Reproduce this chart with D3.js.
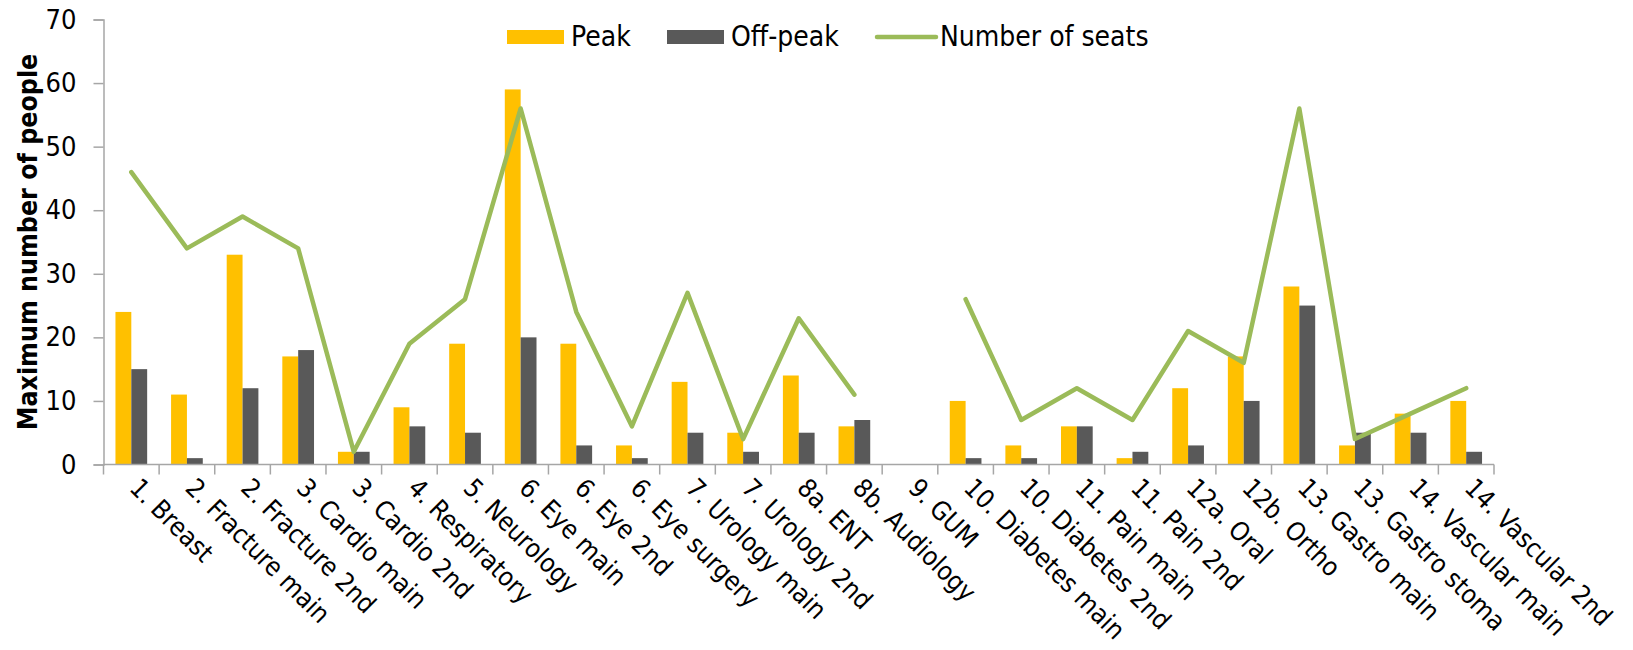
<!DOCTYPE html>
<html>
<head>
<meta charset="utf-8">
<script src="https://cdn.jsdelivr.net/npm/d3@7"></script>
<style>
  html, body { margin: 0; padding: 0; background: #fff; }
  svg { display: block; }
  text { font-family: "DejaVu Sans Condensed", "DejaVu Sans", sans-serif; font-stretch: condensed; fill: #000; }
</style>
</head>
<body>
<svg id="chart" width="1633" height="650"></svg>
<script>
const categories = ["1. Breast","2. Fracture main","2. Fracture 2nd","3. Cardio main","3. Cardio 2nd","4. Respiratory","5. Neurology","6. Eye main","6. Eye 2nd","6. Eye surgery","7. Urology main","7. Urology 2nd","8a. ENT","8b. Audiology","9. GUM","10. Diabetes main","10. Diabetes 2nd","11. Pain main","11. Pain 2nd","12a. Oral","12b. Ortho","13. Gastro main","13. Gastro stoma","14. Vascular main","14. Vascular 2nd"];
const peak    = [24,11,33,17,2,9,19,59,19,3,13,5,14,6,0,10,3,6,1,12,17,28,3,8,10];
const offPeak = [15,1,12,18,2,6,5,20,3,1,5,2,5,7,0,1,1,6,2,3,10,25,5,5,2];
const seats   = [46,34,39,34,2,19,26,56,24,6,27,4,23,11,null,26,7,12,7,21,16,56,4,8,12];
const yTicks  = [0,10,20,30,40,50,60,70];
const seriesNames = ["Peak","Off-peak","Number of seats"];
const colors = {"Peak":"#FFC000","Off-peak":"#595959","Number of seats":"#9BBB59"};

const svg = d3.select("#chart");
const plotLeft = 103.5, plotRight = 1494, plotTop = 19.5, plotBottom = 464.5;

const x = d3.scaleBand().domain(categories).range([plotLeft, plotRight]).padding(0);
const x1 = d3.scaleBand().domain(["Peak","Off-peak"]).range([x.bandwidth()*0.215, x.bandwidth()*0.785]).padding(0);
const y = d3.scaleLinear().domain([0,70]).range([plotBottom, plotTop]);

// bars
const g = svg.append("g");
categories.forEach((c,i) => {
  [["Peak",peak[i]],["Off-peak",offPeak[i]]].forEach(([s,v]) => {
    if (v > 0) {
      g.append("rect")
        .attr("x", x(c) + x1(s))
        .attr("y", y(v))
        .attr("width", x1.bandwidth())
        .attr("height", y(0) - y(v))
        .attr("fill", colors[s]);
    }
  });
});

// y axis
const yAxis = d3.axisLeft(y).tickValues(yTicks).tickSize(10).tickPadding(17);
const ya = svg.append("g").attr("transform", `translate(${plotLeft},0)`).call(yAxis);
ya.select(".domain").attr("stroke", "#A6A6A6").attr("stroke-width", 1.5);
ya.selectAll(".tick line").attr("stroke", "#A6A6A6").attr("stroke-width", 1.5);
ya.selectAll(".tick text").attr("font-size", 27).attr("font-family", null).attr("fill", "#000");

// x axis
const xa = svg.append("g").attr("transform", `translate(0,${plotBottom})`);
xa.append("line").attr("x1", plotLeft).attr("x2", plotRight).attr("y1", 0).attr("y2", 0)
  .attr("stroke", "#A6A6A6").attr("stroke-width", 1.5);
const bounds = categories.map(c => x(c)).concat([plotRight]);
xa.selectAll("line.tk").data(bounds).enter().append("line").attr("class","tk")
  .attr("x1", d => d).attr("x2", d => d).attr("y1", 0).attr("y2", 10)
  .attr("stroke", "#A6A6A6").attr("stroke-width", 1.5);
xa.selectAll("text.lbl").data(categories).enter().append("text").attr("class","lbl")
  .attr("font-size", 26)
  .attr("text-anchor", "start")
  .attr("transform", d => `translate(${x(d) + x.bandwidth()/2 - 3},${25}) rotate(45)`)
  .text(d => d);

// line
const line = d3.line()
  .defined(d => d.v !== null)
  .x(d => x(d.c) + x.bandwidth()/2)
  .y(d => y(d.v));
svg.append("path")
  .datum(categories.map((c,i) => ({c, v: seats[i]})))
  .attr("d", line)
  .attr("fill", "none")
  .attr("stroke", colors["Number of seats"])
  .attr("stroke-width", 4.5)
  .attr("stroke-linejoin", "round")
  .attr("stroke-linecap", "round");

// y title
svg.append("text")
  .attr("transform", `translate(37,${(plotTop+plotBottom)/2}) rotate(-90)`)
  .attr("text-anchor", "middle")
  .attr("font-size", 26.5)
  .attr("font-weight", "bold")
  .text("Maximum number of people");

// legend
const legendX = [507, 667, 877];
const leg = svg.append("g");
seriesNames.forEach((s,i) => {
  const gx = legendX[i];
  if (s === "Number of seats") {
    leg.append("line").attr("x1", gx).attr("x2", gx+59).attr("y1", 37).attr("y2", 37)
      .attr("stroke", colors[s]).attr("stroke-width", 4.5).attr("stroke-linecap","round");
  } else {
    leg.append("rect").attr("x", gx).attr("y", 30).attr("width", 57).attr("height", 14).attr("fill", colors[s]);
  }
  leg.append("text").attr("x", gx + (s === "Number of seats" ? 63 : 64)).attr("y", 46)
    .attr("font-size", 28).text(s);
});
</script>
</body>
</html>
